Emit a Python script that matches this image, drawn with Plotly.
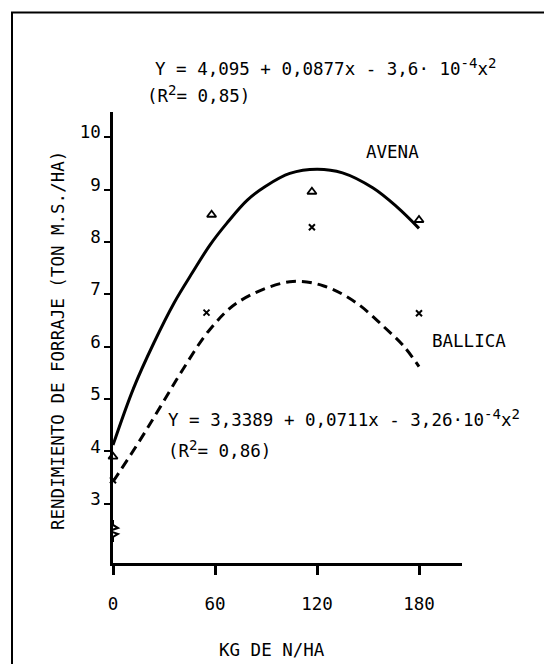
import plotly.graph_objects as go

# ---- data ----
dose_avena = [0, 58, 117, 180]
yield_avena = [3.90, 8.52, 8.96, 8.42]

dose_ballica = [0, 55, 117, 180]
yield_ballica = [3.45, 6.65, 8.28, 6.64]

curve_avena_x = [0, 12, 24, 36, 47, 57, 67, 79, 90, 104, 120, 135, 153, 167, 180]
curve_avena_y = [4.12, 5.20, 6.07, 6.84, 7.43, 7.94, 8.36, 8.80, 9.07, 9.31, 9.39, 9.32, 9.03, 8.67, 8.26]

curve_ballica_x = [0, 16, 28, 41, 57, 74, 104, 124, 143, 159, 171, 180]
curve_ballica_y = [3.42, 4.22, 4.86, 5.56, 6.33, 6.86, 7.24, 7.16, 6.84, 6.39, 6.01, 5.62]

x_ticks = [0, 60, 120, 180]
y_ticks = [3, 4, 5, 6, 7, 8, 9, 10]

# ---- layout geometry (page pixels; the page body has an 8px margin) ----
OFF = 8
W, H = 552 - OFF, 664 - OFF
PL, PR, PT, PB = 113, 462, 112, 563          # plot area edges in page pixels
L, R, T, B = PL - OFF, W - (PR - OFF), PT - OFF, H - (PB - OFF)
PW, PH = PR - PL, PB - PT
FONT = "DejaVu Sans Mono"
FS = 17.5


def px(x):
    return (x - PL) / PW


def py(y):
    return (PB - y) / PH


def sup(s):
    return '<sup><span style="font-size:14px">' + s + '</span></sup>'


fig = go.Figure()

fig.add_trace(go.Scatter(
    x=curve_avena_x, y=curve_avena_y, mode="lines",
    line=dict(color="black", width=3, shape="spline", smoothing=1.0),
    showlegend=False, hoverinfo="skip"))

fig.add_trace(go.Scatter(
    x=curve_ballica_x, y=curve_ballica_y, mode="lines",
    line=dict(color="black", width=3, shape="spline", smoothing=1.0, dash="10px,6px"),
    showlegend=False, hoverinfo="skip"))

fig.add_trace(go.Scatter(
    x=dose_avena, y=yield_avena, mode="markers", cliponaxis=False,
    marker=dict(symbol="triangle-up-open", size=8, color="black",
                line=dict(color="black", width=1.8)),
    showlegend=False))

fig.add_trace(go.Scatter(
    x=dose_ballica, y=yield_ballica, mode="markers", cliponaxis=False,
    marker=dict(symbol="x-thin", size=6, color="black",
                line=dict(color="black", width=2)),
    showlegend=False))

annotations = [
    dict(text="Y = 4,095 + 0,0877x - 3,6· 10" + sup("-4") + "x" + sup("2"),
         x=px(153), y=py(67), xanchor="left", yanchor="middle"),
    dict(text="(R" + sup("2") + "= 0,85)",
         x=px(145), y=py(94), xanchor="left", yanchor="middle"),
    dict(text="AVENA", x=px(392), y=py(152), xanchor="center", yanchor="middle"),
    dict(text="BALLICA", x=px(430), y=py(341), xanchor="left", yanchor="middle"),
    dict(text="Y = 3,3389 + 0,0711x - 3,26·10" + sup("-4") + "x" + sup("2"),
         x=px(166), y=py(418), xanchor="left", yanchor="middle"),
    dict(text="(R" + sup("2") + "= 0,86)",
         x=px(166), y=py(449), xanchor="left", yanchor="middle"),
    dict(text="KG DE N/HA", x=px(272), y=py(650), xanchor="center", yanchor="middle"),
    dict(text="RENDIMIENTO DE FORRAJE (TON M.S./HA)", x=px(58), y=py(341),
         xanchor="center", yanchor="middle", textangle=-90),
]
for a in annotations:
    a.update(xref="paper", yref="paper", showarrow=False,
             font=dict(family=FONT, size=FS, color="black"))

shapes = [
    # outer frame
    dict(type="rect", xref="paper", yref="paper",
         x0=px(12), x1=px(549), y0=py(690), y1=py(12.5),
         line=dict(color="black", width=2), fillcolor="rgba(0,0,0,0)", layer="above"),
    # axis break: blank the axis line, then draw zigzag
    dict(type="path", xref="x", yref="y", xsizemode="pixel", ysizemode="pixel",
         xanchor=0, yanchor=2.48, path="M-4,11 L4,11 L4,-11 L-4,-11 Z",
         fillcolor="white", line=dict(width=0), layer="above"),
    dict(type="path", xref="x", yref="y", xsizemode="pixel", ysizemode="pixel",
         xanchor=0, yanchor=2.48,
         path="M0,11 L0,6 L5,3 L-4,0 L5,-3 L0,-6 L0,-11",
         line=dict(color="black", width=2), layer="above"),
]

fig.update_layout(
    width=W, height=H,
    margin=dict(l=L, r=R, t=T, b=B, pad=0),
    paper_bgcolor="white", plot_bgcolor="white",
    font=dict(family=FONT, size=FS, color="black"),
    annotations=annotations, shapes=shapes,
    xaxis=dict(range=[0, PW / 1.7], tickvals=x_ticks, ticktext=[str(v) for v in x_ticks],
               showline=True, linecolor="black", linewidth=2.5, layer="below traces",
               ticks="outside", ticklen=9, tickwidth=2.5, tickcolor="black",
               showgrid=False, zeroline=False, ticklabelstandoff=14,
               tickfont=dict(family=FONT, size=FS)),
    yaxis=dict(range=[1.868, 10.483], tickvals=y_ticks, ticktext=[str(v) for v in y_ticks],
               showline=True, linecolor="black", linewidth=2.5, layer="below traces",
               ticks="outside", ticklen=6, tickwidth=2, tickcolor="black",
               showgrid=False, zeroline=False, ticklabelshift=-5,
               tickfont=dict(family=FONT, size=FS)),
)

fig.write_html("out.html")
